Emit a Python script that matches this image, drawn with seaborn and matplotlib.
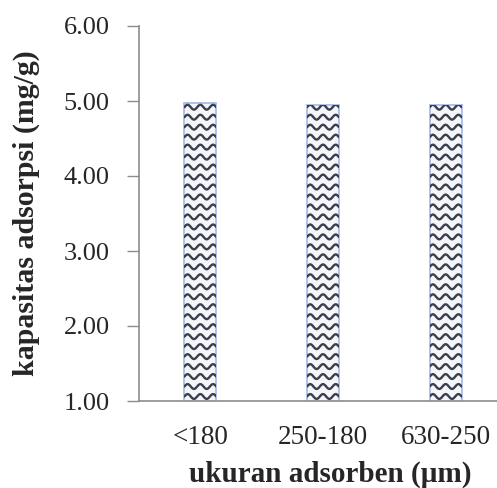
import matplotlib
matplotlib.use("Agg")
import matplotlib.pyplot as plt
import numpy as np
import pandas as pd
import seaborn as sns

# data
sizes = ["<180", "250-180", "630-250"]
capacity = [4.97, 4.95, 4.95]
y_ticks = [1.0, 2.0, 3.0, 4.0, 5.0, 6.0]

df = pd.DataFrame({"ukuran": sizes, "kapasitas": capacity})

sns.set_style("white")
plt.rcParams["font.family"] = ["Liberation Serif", "DejaVu Serif"]

fig = plt.figure(figsize=(4.97, 4.88), dpi=100)
ax = fig.add_axes([139 / 497, 87 / 488, 368 / 497, 375 / 488])

sns.barplot(data=df, x="ukuran", y="kapasitas", ax=ax, width=0.26,
            color="#f4f6fb", edgecolor="#a9bde6", linewidth=1.3)
ax.set_ylim(1, 6)

# wavy fill pattern, drawn inside each bar
for p in ax.patches:
    x0, w = p.get_x(), p.get_width()
    y1 = p.get_y() + p.get_height()
    xs = np.linspace(x0, x0 + w, 100)
    period = w / 2.5
    amp = 0.032
    for yc in np.arange(1.0 + 0.06, y1 + 0.08, 0.133):
        ys = yc + amp * np.sin(2 * np.pi * (xs - x0) / period)
        ln, = ax.plot(xs, ys, color="#3b3f4d", lw=1.7, zorder=3)
        ln.set_clip_path(p)

ax.set_xlim(-0.5, 2.5)
ax.set_yticks(y_ticks)
ax.set_yticklabels([f"{t:.2f}" for t in y_ticks], fontsize=19)
ax.tick_params(axis="x", labelsize=19.5, length=0, pad=17)
ax.tick_params(axis="y", length=9, width=1, color="#8c8c8c", left=True, pad=12)

for s in ["top", "right"]:
    ax.spines[s].set_visible(False)
for s in ["left", "bottom"]:
    ax.spines[s].set_color("#8c8c8c")
    ax.spines[s].set_linewidth(1.2)

ax.set_ylabel("kapasitas adsorpsi (mg/g)", fontsize=21.5, fontweight="bold")
ax.set_xlabel("ukuran adsorben (\u00b5m)", fontsize=21, fontweight="bold")
ax.yaxis.set_label_coords(-(139 - 40) / 368, 0.5)
ax.xaxis.set_label_coords((330 - 139) / 368, -(461 - 401) / 375)

fig.savefig("out.png", dpi=100, facecolor="white")
